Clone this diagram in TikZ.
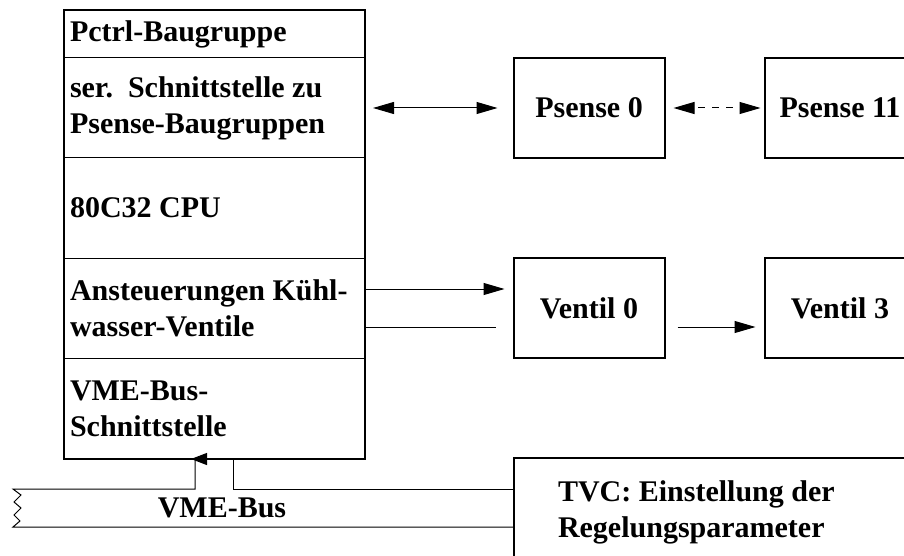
\documentclass[tikz,border=0pt]{standalone}
\usepackage{fontspec}
\setmainfont{Liberation Serif}
\usetikzlibrary{positioning,arrows.meta}

\begin{document}
\begin{tikzpicture}[x=1pt, y=-1pt,
    >={Triangle[length=21pt,width=12pt]},
    every node/.style={font=\fontsize{30}{36}\selectfont\bfseries\frenchspacing},
    zeile/.style={draw, line width=1pt, outer sep=0pt, text width=289pt,
      inner xsep=6pt, inner ysep=0pt, align=flush left},
    einheit/.style={draw, line width=2pt, outer sep=0pt, minimum width=151pt,
      minimum height=100pt, inner sep=0pt},
    leitung/.style={line width=1pt}]

  \useasboundingbox (0,0) rectangle (904,556);
  \clip (0,0) rectangle (904,556);

  % 1. Pctrl-Baugruppe, Zeile für Zeile von oben nach unten
  \node[zeile, minimum height=48pt] (pctrl) at (214.5,34) {Pctrl-Baugruppe};
  \node[zeile, minimum height=100pt, below=0pt of pctrl] (ser) {ser.\ \ Schnittstelle zu\\Psense-Baugruppen};
  \node[zeile, minimum height=100pt, below=0pt of ser] (cpu) {80C32 CPU};
  \node[zeile, minimum height=100pt, below=0pt of cpu] (ans) {Ansteuerungen Kühl-\\wasser-Ventile};
  \node[zeile, minimum height=101pt, below=0pt of ans] (vme) {VME-Bus-\\Schnittstelle};
  \draw[line width=2pt] (pctrl.north west) rectangle (vme.south east); % dicker Rahmen

  % 2. Psense- und Ventil-Baugruppen, TVC
  \node[einheit] (ps0) at (589,108) {Psense 0};
  \node[einheit, right=100pt of ps0] (ps11) {Psense 11};
  \node[einheit] (v0) at (589,308) {Ventil 0};
  \node[einheit, right=100pt of v0] (v3) {Ventil 3};
  \node[einheit, anchor=north west, minimum width=448pt, minimum height=108pt,
    text width=360pt, inner xsep=44pt, align=flush left] (tvc) at (514,458)
    {TVC: Einstellung der\\Regelungsparameter};

  % 3. Verbindungen
  \draw[leitung, <->, shorten <=8pt, shorten >=16pt] (ser.east) -- (ps0.west);
  \draw[leitung, <->, dash pattern=on 7pt off 7pt, dash phase=-4pt, shorten <=9pt, shorten >=4pt] (ps0.east) -- (ps11.west);
  \draw[leitung, ->, shorten >=9pt] ([yshift=19pt]ans.east) -- ([yshift=19pt]v0.west);
  \draw[leitung, shorten >=18pt] ([yshift=-19pt]ans.east) -- ([yshift=-19pt]v0.west);
  \draw[leitung, ->, shorten <=13pt, shorten >=9pt] ([yshift=-19pt]v0.east) -- ([yshift=-19pt]v3.west);

  % 4. VME-Bus mit Abbruchkante links
  \coordinate (busOL) at (13,489);
  \coordinate (busUL) at (13,527);
  \coordinate (abzA) at (195,489);
  \coordinate (abzB) at (233,489);
  \coordinate (tapA) at (abzA |- vme.south);
  \coordinate (tapB) at (abzB |- vme.south);
  \draw[leitung] (tapA) -- (abzA) -- (busOL) -- ++(8,6) -- ++(-7,7) -- ++(7,6)
    -- ++(-7,7) -- ++(6,6) -- ++(-7,6) -- (busUL) -- (busUL -| tvc.west);
  \draw[leitung] (tapB) -- (abzB) -- (abzB -| tvc.west);
  \draw[leitung, -{Triangle[length=16pt,width=12pt]}] ([xshift=12pt]tapA) -- ([xshift=-4pt]tapA);
  \node (buslbl) at (222,508) {VME-Bus};
\end{tikzpicture}
\end{document}
